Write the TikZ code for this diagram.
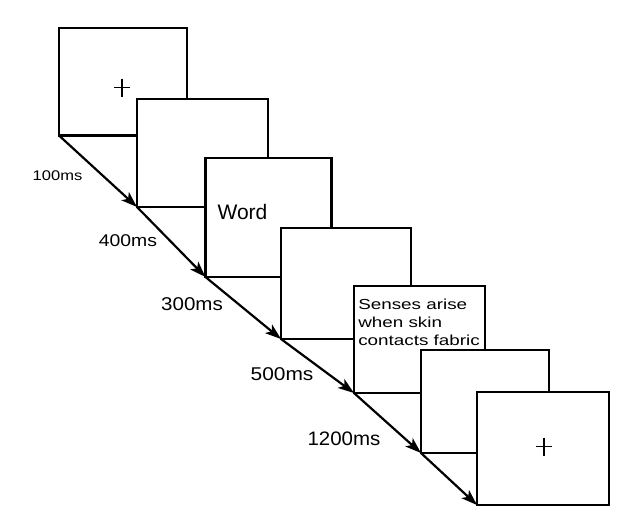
\documentclass[tikz,border=0pt]{standalone}
\usepackage{fontspec}
\setmainfont{Liberation Sans}
\usetikzlibrary{arrows.meta}
\begin{document}
\begin{tikzpicture}[x=1pt,y=-1pt,
  frame/.style={draw, line width=2.8pt, fill=white, inner sep=0pt, outer sep=0pt, anchor=north west},
  arr/.style={-{Stealth[length=16pt,width=11pt,inset=4pt]}, line width=2.2pt},
  lbl/.style={inner sep=0pt},
  fix/.style={line width=1.3pt}]
\useasboundingbox (0,0) rectangle (623,530);
% screens
\node[frame, minimum width=128pt, minimum height=107.5pt] (b1) at (59,28) {};
\node[frame, minimum width=131pt, minimum height=108pt] (b2) at (137,99) {};
\node[frame, minimum width=126pt, minimum height=119pt] (b3) at (205.5,158) {};
\node[frame, minimum width=130pt, minimum height=111pt] (b4) at (281,228) {};
\node[frame, minimum width=131pt, minimum height=107pt] (b5) at (354,286) {};
\node[frame, minimum width=128pt, minimum height=103pt] (b6) at (421,350) {};
\node[frame, minimum width=132pt, minimum height=113pt] (b7) at (477,392) {};
% fixation crosses
\draw[fix] (114,87.5) -- (130,87.5) (122,78.5) -- (122,96.5);
\draw[fix] (536,446.5) -- (552,446.5) (544,437.5) -- (544,455.5);
% contents
\node[lbl, font=\fontsize{21}{24}\selectfont] (word) at (242.5,212) {Word};
\node[lbl, anchor=north west, align=left, xscale=1.3, font=\fontsize{14.5}{18}\selectfont] (sense) at (358,298.5) {Senses arise\\when skin\\contacts fabric};
% time line
\draw[arr] (b1.south west) -- (b2.south west);
\draw[arr] (b2.south west) -- (b3.south west);
\draw[arr] (b3.south west) -- (b4.south west);
\draw[arr] (b4.south west) -- (b5.south west);
\draw[arr] (b5.south west) -- (b6.south west);
\draw[arr] (b6.south west) -- (b7.south west);
% durations
\node[lbl, xscale=1.18, font=\fontsize{14}{16}\selectfont] (t1) at (57.5,176) {100ms};
\node[lbl, xscale=1.14, font=\fontsize{17}{20}\selectfont] (t2) at (128,241) {400ms};
\node[lbl, xscale=1.11, font=\fontsize{18.5}{21}\selectfont] (t3) at (192,304) {300ms};
\node[lbl, xscale=1.13, font=\fontsize{18.5}{21}\selectfont] (t4) at (282,374) {500ms};
\node[lbl, xscale=1.05, font=\fontsize{19.5}{22}\selectfont] (t5) at (344,439) {1200ms};
\end{tikzpicture}
\end{document}
